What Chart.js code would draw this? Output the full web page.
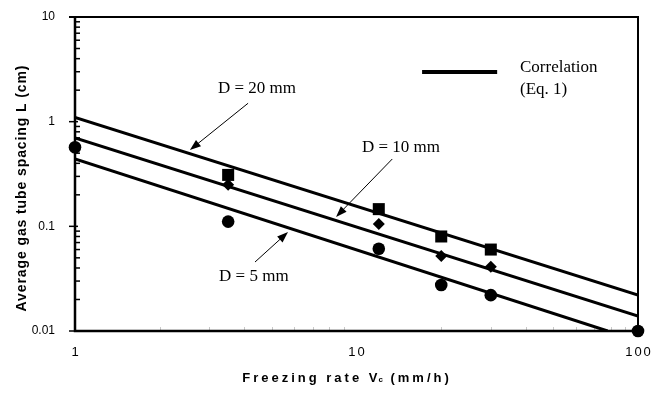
<!DOCTYPE html>
<html>
<head>
<meta charset="utf-8">
<script src="https://cdn.jsdelivr.net/npm/chart.js@4/dist/chart.umd.min.js"></script>
<style>
  html, body { margin: 0; padding: 0; background: #fff; }
  #wrap { width: 660px; height: 396px; }
</style>
</head>
<body>
<div id="wrap"><canvas id="chart" width="660" height="396"></canvas></div>
<script>
var d20Vc = [3.5, 12, 20, 30];
var d20L = [0.31, 0.146, 0.08, 0.06];
var d10Vc = [3.5, 12, 20, 30];
var d10L = [0.25, 0.105, 0.052, 0.041];
var d5Vc = [1, 3.5, 12, 20, 30, 100];
var d5L = [0.57, 0.111, 0.061, 0.0275, 0.022, 0.01];

// correlation lines (Eq. 1), end points
var corr20Vc = [1, 100];
var corr20L = [1.1, 0.0221];
var corr10Vc = [1, 100];
var corr10L = [0.7, 0.0139];
var corr5Vc = [1, 78];
var corr5L = [0.44, 0.01];

var xTicks = [1, 10, 100];
var yTicks = [0.01, 0.1, 1, 10];
var yTickText = ['0.01', '0.1', '1', '10'];

function pts(xs, ys) {
	return xs.map(function(v, i) { return { x: v, y: ys[i] }; });
}

function lineSet(xs, ys) {
	return {
		data: pts(xs, ys),
		showLine: true,
		borderColor: '#000',
		borderWidth: 3,
		pointRadius: 0,
		fill: false
	};
}

function markerSet(xs, ys, style, r) {
	return {
		data: pts(xs, ys),
		showLine: false,
		pointStyle: style,
		pointRadius: r,
		backgroundColor: '#000',
		borderColor: '#000',
		borderWidth: 0,
		clip: false
	};
}

// labels and arrows placed in data space: [x, y]
var notes = [
	{ text: 'D = 20 mm', at: [3.22, 2.09], from: [4.12, 1.5], to: [2.56, 0.536] },
	{ text: 'D = 10 mm', at: [10.46, 0.571], from: [13.4, 0.44], to: [8.46, 0.123] },
	{ text: 'D = 5 mm', at: [3.25, 0.0335], from: [4.36, 0.0456], to: [5.71, 0.0881] }
];

function arrow(ctx, x1, y1, x2, y2) {
	var ang = Math.atan2(y2 - y1, x2 - x1);
	var len = 11, half = 4;
	ctx.beginPath();
	ctx.moveTo(x1, y1);
	ctx.lineTo(x2 - Math.cos(ang) * len * 0.8, y2 - Math.sin(ang) * len * 0.8);
	ctx.lineWidth = 1;
	ctx.stroke();
	ctx.beginPath();
	ctx.moveTo(x2, y2);
	ctx.lineTo(x2 - Math.cos(ang) * len + Math.sin(ang) * half, y2 - Math.sin(ang) * len - Math.cos(ang) * half);
	ctx.lineTo(x2 - Math.cos(ang) * len - Math.sin(ang) * half, y2 - Math.sin(ang) * len + Math.cos(ang) * half);
	ctx.closePath();
	ctx.fill();
}

var frame = {
	id: 'frame',
	beforeDatasetsDraw: function(chart) {
		var ctx = chart.ctx, a = chart.chartArea;
		var xs = chart.scales.x, ys = chart.scales.y;
		ctx.save();
		ctx.strokeStyle = '#000';
		ctx.fillStyle = '#000';

		// top and right border
		ctx.lineWidth = 2;
		ctx.beginPath();
		ctx.moveTo(a.left - 6, a.top);
		ctx.lineTo(a.right, a.top);
		ctx.lineTo(a.right, a.bottom);
		ctx.stroke();

		// x minor ticks (light)
		ctx.strokeStyle = '#c8c8c8';
		ctx.lineWidth = 1;
		[1, 10].forEach(function(dec) {
			for (var m = 2; m <= 9; m++) {
				var px = Math.round(xs.getPixelForValue(dec * m)) + 0.5;
				ctx.beginPath();
				ctx.moveTo(px, a.bottom);
				ctx.lineTo(px, a.bottom - 4);
				ctx.stroke();
			}
		});

		// y minor ticks, inward
		ctx.strokeStyle = '#000';
		ctx.lineWidth = 1.5;
		[0.01, 0.1, 1].forEach(function(dec) {
			for (var m = 2; m <= 9; m++) {
				var py = ys.getPixelForValue(dec * m);
				ctx.beginPath();
				ctx.moveTo(a.left, py);
				ctx.lineTo(a.left + 5, py);
				ctx.stroke();
			}
		});

		// y major ticks, outward
		yTicks.forEach(function(v) {
			var py = ys.getPixelForValue(v);
			ctx.beginPath();
			ctx.moveTo(a.left - 6, py);
			ctx.lineTo(a.left + 3, py);
			ctx.stroke();
		});

		// main axes
		ctx.lineWidth = 2.5;
		ctx.beginPath();
		ctx.moveTo(a.left, a.top);
		ctx.lineTo(a.left, a.bottom);
		ctx.lineTo(a.right, a.bottom);
		ctx.stroke();

		// tick labels
		ctx.font = '12px "Liberation Sans", Arial, sans-serif';
		ctx.textAlign = 'right';
		ctx.textBaseline = 'middle';
		yTicks.forEach(function(v, i) {
			ctx.fillText(yTickText[i], a.left - 20, ys.getPixelForValue(v));
		});
		ctx.font = '13px "Liberation Sans", Arial, sans-serif';
		ctx.letterSpacing = '2px';
		ctx.textAlign = 'center';
		xTicks.forEach(function(v) {
			ctx.fillText(String(v), xs.getPixelForValue(v) + 1, a.bottom + 21);
		});

		// x title with subscript c
		ctx.font = 'bold 13px "Liberation Sans", Arial, sans-serif';
		ctx.letterSpacing = '3px';
		ctx.textAlign = 'left';
		var p1 = 'Freezing rate V', p3 = ' (mm/h)';
		var w1 = ctx.measureText(p1).width, w3 = ctx.measureText(p3).width;
		ctx.font = 'bold 8px "Liberation Sans", Arial, sans-serif';
		ctx.letterSpacing = '1px';
		var w2 = ctx.measureText('c').width;
		var tx = 348 - (w1 + w2 + w3) / 2, ty = a.bottom + 47;
		ctx.font = 'bold 13px "Liberation Sans", Arial, sans-serif';
		ctx.letterSpacing = '3px';
		ctx.fillText(p1, tx, ty);
		ctx.font = 'bold 8px "Liberation Sans", Arial, sans-serif';
		ctx.letterSpacing = '1px';
		ctx.fillText('c', tx + w1 - 2, ty + 2);
		ctx.font = 'bold 13px "Liberation Sans", Arial, sans-serif';
		ctx.letterSpacing = '3px';
		ctx.fillText(p3, tx + w1 + w2 - 2, ty);

		// y title
		ctx.save();
		ctx.translate(22, (a.top + a.bottom) / 2 + 14);
		ctx.rotate(-Math.PI / 2);
		ctx.font = 'bold 14px "Liberation Sans", Arial, sans-serif';
		ctx.letterSpacing = '0.9px';
		ctx.textAlign = 'center';
		ctx.fillText('Average gas tube spacing L (cm)', 0, 0);
		ctx.restore();

		ctx.restore();
	},
	afterDraw: function(chart) {
		var ctx = chart.ctx;
		var xs = chart.scales.x, ys = chart.scales.y;
		ctx.save();
		ctx.fillStyle = '#000';
		ctx.strokeStyle = '#000';
		ctx.font = '17px "Liberation Serif", "Times New Roman", serif';
		ctx.textBaseline = 'middle';
		ctx.textAlign = 'left';
		notes.forEach(function(n) {
			ctx.fillText(n.text, xs.getPixelForValue(n.at[0]), ys.getPixelForValue(n.at[1]));
			arrow(ctx, xs.getPixelForValue(n.from[0]), ys.getPixelForValue(n.from[1]),
				xs.getPixelForValue(n.to[0]), ys.getPixelForValue(n.to[1]));
		});

		// legend: line sample + text
		ctx.lineWidth = 4;
		ctx.beginPath();
		ctx.moveTo(xs.getPixelForValue(17.1), ys.getPixelForValue(2.98));
		ctx.lineTo(xs.getPixelForValue(31.6), ys.getPixelForValue(2.98));
		ctx.stroke();
		ctx.fillText('Correlation', xs.getPixelForValue(38.1), ys.getPixelForValue(3.32));
		ctx.fillText('(Eq. 1)', xs.getPixelForValue(38.1), ys.getPixelForValue(2.05));
		ctx.restore();
	}
};

var chart = new Chart(document.getElementById('chart').getContext('2d'), {
	type: 'scatter',
	data: {
		datasets: [
			lineSet(corr20Vc, corr20L),
			lineSet(corr10Vc, corr10L),
			lineSet(corr5Vc, corr5L),
			markerSet(d20Vc, d20L, 'rect', 8.5),
			markerSet(d10Vc, d10L, 'rectRot', 6),
			markerSet(d5Vc, d5L, 'circle', 6.3)
		]
	},
	options: {
		responsive: false,
		animation: false,
		devicePixelRatio: 1,
		layout: { padding: { left: 75, right: 22, top: 17, bottom: 65 } },
		scales: {
			x: { type: 'logarithmic', min: 1, max: 100, display: false },
			y: { type: 'logarithmic', min: 0.01, max: 10, display: false }
		},
		plugins: { legend: { display: false }, tooltip: { enabled: false } }
	},
	plugins: [frame]
});
</script>
</body>
</html>
